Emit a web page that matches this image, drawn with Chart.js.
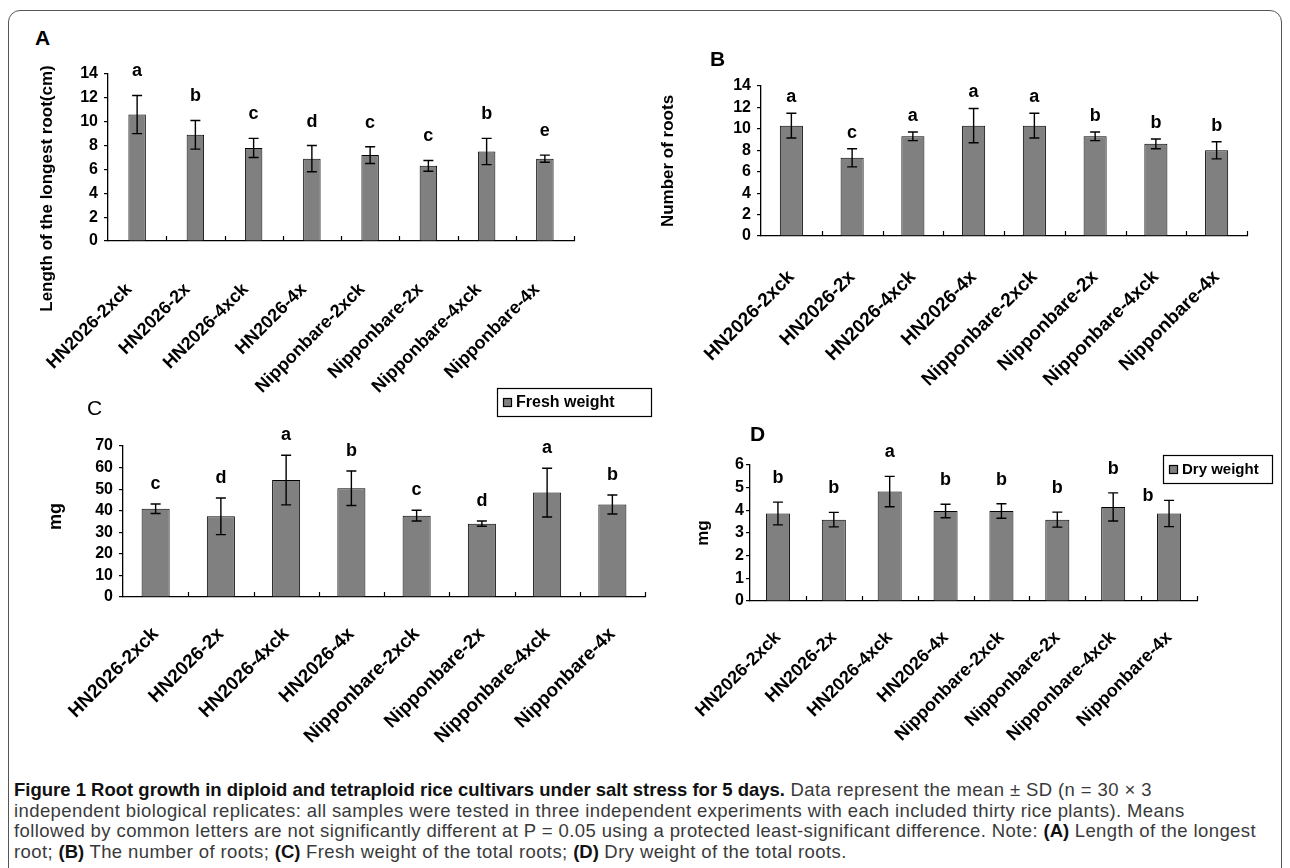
<!DOCTYPE html>
<html>
<head>
<meta charset="utf-8">
<script src="https://cdn.jsdelivr.net/npm/chart.js@4.4.0/dist/chart.umd.min.js"></script>
<style>
    body { margin: 0; background: #fff; width: 1290px; height: 868px; position: relative; overflow: hidden; font-family: "Liberation Sans", Arial, sans-serif; }
    .frame { position: absolute; left: 8px; top: 10px; width: 1272px; height: 880px; border: 1.5px solid #555; border-radius: 12px; }
    .panel { position: absolute; }
    .tag { position: absolute; font: bold 21px "Liberation Sans", Arial, sans-serif; color: #000; line-height: 1; }
    .caption { position: absolute; left: 14px; top: 780px; font-family: "Liberation Sans", Arial, sans-serif; font-size: 18.5px; letter-spacing: 0.4px; line-height: 20.5px; color: #3a3a3a; white-space: nowrap; }
    .caption b { color: #111; letter-spacing: 0; }
</style>
</head>
<body>
<div class="frame"></div>

<div class="panel" style="left:10px; top:56px; width:600px; height:345px;"><canvas id="chartA"></canvas></div>
<div class="panel" style="left:650px; top:60px; width:620px; height:350px;"><canvas id="chartB"></canvas></div>
<div class="panel" style="left:10px; top:380px; width:650px; height:380px;"><canvas id="chartC"></canvas></div>
<div class="panel" style="left:650px; top:420px; width:640px; height:340px;"><canvas id="chartD"></canvas></div>

<div class="tag" style="left:35px; top:27px;">A</div>
<div class="tag" style="left:710px; top:48px;">B</div>
<div class="tag" style="left:87px; top:397px; font-weight:normal;">C</div>
<div class="tag" style="left:750px; top:423px;">D</div>

<div class="caption">
    <div><b>Figure 1 Root growth in diploid and tetraploid rice cultivars under salt stress for 5 days.</b> Data represent the mean ± SD (n = 30 × 3</div>
    <div>independent biological replicates: all samples were tested in three independent experiments with each included thirty rice plants). Means</div>
    <div>followed by common letters are not significantly different at P = 0.05 using a protected least-significant difference. Note: <b>(A)</b> Length of the longest</div>
    <div>root; <b>(B)</b> The number of roots; <b>(C)</b> Fresh weight of the total roots; <b>(D)</b> Dry weight of the total roots.</div>
</div>

<script>
const categories = ['HN2026-2xck', 'HN2026-2x', 'HN2026-4xck', 'HN2026-4x', 'Nipponbare-2xck', 'Nipponbare-2x', 'Nipponbare-4xck', 'Nipponbare-4x'];

// A: length of the longest root (cm)
const rootLength = [10.6, 8.9, 7.8, 6.9, 7.2, 6.3, 7.5, 6.9];
const rootLengthSD = [1.6, 1.2, 0.8, 1.1, 0.7, 0.45, 1.1, 0.3];
const rootLengthLetters = ['a', 'b', 'c', 'd', 'c', 'c', 'b', 'e'];
const rootLengthTicks = [0, 2, 4, 6, 8, 10, 12, 14];

// B: number of roots
const rootNumber = [10.3, 7.3, 9.3, 10.3, 10.3, 9.3, 8.6, 8.0];
const rootNumberSD = [1.15, 0.85, 0.4, 1.6, 1.15, 0.4, 0.45, 0.8];
const rootNumberLetters = ['a', 'c', 'a', 'a', 'a', 'b', 'b', 'b'];
const rootNumberTicks = [0, 2, 4, 6, 8, 10, 12, 14];

// C: fresh weight (mg)
const freshWeight = [40.9, 37.4, 54.2, 50.4, 37.7, 34.0, 48.4, 42.9];
const freshWeightSD = [2.2, 8.5, 11.5, 8.0, 2.5, 1.2, 11.3, 4.4];
const freshWeightLetters = ['c', 'd', 'a', 'b', 'c', 'd', 'a', 'b'];
const freshWeightTicks = [0, 10, 20, 30, 40, 50, 60, 70];

// D: dry weight (mg)
const dryWeight = [3.86, 3.59, 4.83, 3.97, 3.97, 3.59, 4.15, 3.86];
const dryWeightSD = [0.5, 0.32, 0.67, 0.3, 0.32, 0.33, 0.62, 0.58];
const dryWeightLetters = ['b', 'b', 'a', 'b', 'b', 'b', 'b', 'b'];
const dryWeightTicks = [0, 1, 2, 3, 4, 5, 6];

const FONT = '"Liberation Sans", Arial, sans-serif';

// error bars, significance letters, inward x tick marks, y title and the legend box
const decorPlugin = {
    id: 'decor',
    afterDatasetsDraw(chart, args, opts) {
        const ctx = chart.ctx;
        const area = chart.chartArea;
        const y = chart.scales.y;
        const ds = chart.data.datasets[0];
        const meta = chart.getDatasetMeta(0);
        const n = chart.data.labels.length;
        const lg = opts.legend;
        const box = lg ? { x: area.right + lg.dx, y: area.top + lg.dy, w: lg.w, h: lg.h } : null;
        ctx.save();
        ctx.strokeStyle = '#000';
        ctx.fillStyle = '#000';

        // tick marks between categories, pointing up
        ctx.lineWidth = 1.2;
        const step = (area.right - area.left) / n;
        for (let i = 1; i <= n; i++) {
            const px = Math.round(area.left + step * i) + 0.5;
            ctx.beginPath();
            ctx.moveTo(px, area.bottom);
            ctx.lineTo(px, area.bottom - 5);
            ctx.stroke();
        }

        ctx.lineWidth = 1.4;
        ctx.font = opts.letterFont;
        ctx.textAlign = 'center';
        ctx.textBaseline = 'middle';
        meta.data.forEach((bar, i) => {
            const v = ds.data[i], s = ds.sd[i];
            const top = y.getPixelForValue(v + s);
            const bot = y.getPixelForValue(v - s);
            const cap = opts.cap;
            ctx.beginPath();
            ctx.moveTo(bar.x, top); ctx.lineTo(bar.x, bot);
            ctx.moveTo(bar.x - cap, top); ctx.lineTo(bar.x + cap, top);
            ctx.moveTo(bar.x - cap, bot); ctx.lineTo(bar.x + cap, bot);
            ctx.stroke();

            // letter above the error bar; tucked to the left if it would hit the legend
            let lx = bar.x, ly = top - opts.letterGap;
            if (box && lx + 6 > box.x && lx - 6 < box.x + box.w && ly + 10 > box.y && ly - 10 < box.y + box.h) {
                lx = bar.x - 21;
                ly = top - 4;
            }
            ctx.fillText(ds.letters[i], lx, ly);
        });

        // y axis title
        const t = opts.yTitle;
        ctx.save();
        ctx.translate(area.left + t.dx, (area.top + area.bottom) / 2 + t.dy);
        ctx.rotate(-Math.PI / 2);
        ctx.font = t.font;
        ctx.fillText(t.text, 0, 0);
        ctx.restore();

        if (box) {
            ctx.lineWidth = 1.2;
            ctx.strokeStyle = '#000';
            ctx.fillStyle = '#fff';
            ctx.fillRect(box.x, box.y, box.w, box.h);
            ctx.strokeRect(box.x + 0.5, box.y + 0.5, box.w, box.h);
            ctx.fillStyle = ds.backgroundColor;
            ctx.fillRect(box.x + 6, box.y + box.h / 2 - 4, 9, 9);
            ctx.strokeRect(box.x + 6.5, box.y + box.h / 2 - 3.5, 8, 8);
            ctx.fillStyle = '#000';
            ctx.font = lg.font;
            ctx.textAlign = 'left';
            ctx.textBaseline = 'middle';
            ctx.fillText(ds.label, box.x + 19, box.y + box.h / 2 + 1);
        }
        ctx.restore();
    }
};

function makePanel(id, label, values, sd, letters, ticks, cfg) {
    const el = document.getElementById(id);
    if (!el) return;
    new Chart(el.getContext('2d'), {
        type: 'bar',
        data: {
            labels: categories,
            datasets: [{
                label: label,
                data: values,
                sd: sd,
                letters: letters,
                backgroundColor: '#808080',
                borderColor: '#000',
                borderWidth: 1,
                barPercentage: cfg.barPct,
                categoryPercentage: 1
            }]
        },
        options: {
            responsive: true,
            maintainAspectRatio: false,
            animation: false,
            layout: { padding: { top: cfg.padTop, right: cfg.padRight, left: 0, bottom: 0 } },
            scales: {
                x: {
                    offset: true,
                    grid: { display: false, drawTicks: false },
                    border: { display: true, color: '#000', width: 1.3 },
                    ticks: {
                        autoSkip: false,
                        minRotation: 45,
                        maxRotation: 45,
                        padding: cfg.xPad,
                        labelOffset: cfg.xShift || 0,
                        color: '#000',
                        font: { family: FONT, size: cfg.xFont, weight: 'bold' }
                    },
                    afterFit: s => { s.height = cfg.xHeight; }
                },
                y: {
                    min: ticks[0],
                    max: ticks[ticks.length - 1],
                    afterBuildTicks: s => { s.ticks = ticks.map(v => ({ value: v })); },
                    grid: { drawOnChartArea: false, drawTicks: true, tickLength: 4, color: '#000', lineWidth: 1.2 },
                    border: { display: true, color: '#000', width: 1.3 },
                    ticks: {
                        autoSkip: false,
                        padding: cfg.yPad,
                        color: '#000',
                        font: { family: FONT, size: cfg.yFont, weight: 'bold' }
                    },
                    afterFit: s => { s.width = cfg.yWidth; }
                }
            },
            plugins: {
                legend: { display: false },
                tooltip: { enabled: false },
                decor: {
                    letterFont: 'bold ' + cfg.letterFont + 'px ' + FONT,
                    letterGap: cfg.letterGap,
                    cap: cfg.cap,
                    yTitle: { text: cfg.yTitle, dx: cfg.titleDx, dy: cfg.titleDy, font: 'bold ' + cfg.titleFont + 'px ' + FONT },
                    legend: cfg.legend
                }
            }
        },
        plugins: [decorPlugin]
    });
}

document.addEventListener('DOMContentLoaded', function() {
    makePanel('chartA', 'Length', rootLength, rootLengthSD, rootLengthLetters, rootLengthTicks, {
        barPct: 0.3, padTop: 18, padRight: 36, xHeight: 160, yWidth: 98, xPad: 38, xShift: -8, xFont: 18,
        yPad: 6, yFont: 16, yTitle: 'Length of the longest root(cm)', titleFont: 17, titleDx: -61, titleDy: 31,
        letterFont: 18, letterGap: 24, cap: 5
    });
    makePanel('chartB', 'Number', rootNumber, rootNumberSD, rootNumberLetters, rootNumberTicks, {
        barPct: 0.38, padTop: 26, padRight: 23, xHeight: 174, yWidth: 111, xPad: 30, xFont: 19,
        yPad: 6, yFont: 16, yTitle: 'Number of roots', titleFont: 17, titleDx: -93, titleDy: 0,
        letterFont: 18, letterGap: 16, cap: 5
    });
    makePanel('chartC', 'Fresh weight', freshWeight, freshWeightSD, freshWeightLetters, freshWeightTicks, {
        barPct: 0.43, padTop: 66, padRight: 15, xHeight: 163, yWidth: 113, xPad: 26, xFont: 19,
        yPad: 6, yFont: 16, yTitle: 'mg', titleFont: 18, titleDx: -67, titleDy: -5,
        letterFont: 18, letterGap: 20, cap: 5,
        legend: { dx: -148, dy: -58, w: 154, h: 28, font: 'bold 16px ' + FONT }
    });
    makePanel('chartD', 'Dry weight', dryWeight, dryWeightSD, dryWeightLetters, dryWeightTicks, {
        barPct: 0.43, padTop: 45, padRight: 93, xHeight: 159, yWidth: 100, xPad: 26, xFont: 18,
        yPad: 2, yFont: 16, yTitle: 'mg', titleFont: 17, titleDx: -47, titleDy: 0,
        letterFont: 18, letterGap: 24, cap: 5,
        legend: { dx: -34, dy: -10, w: 109, h: 28, font: 'bold 15px ' + FONT }
    });
});
</script>
</body>
</html>
